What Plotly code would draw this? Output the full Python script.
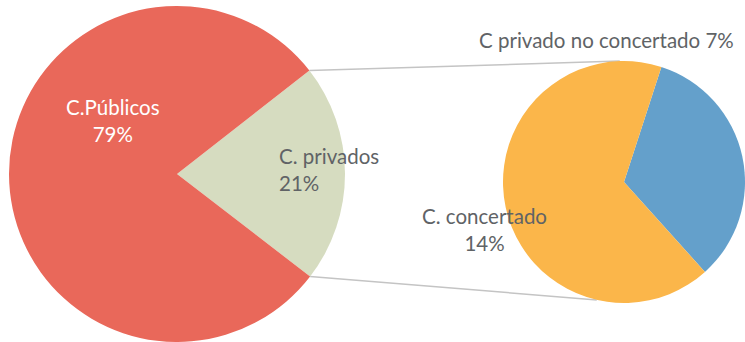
import math
import plotly.graph_objects as go

# Share of students by school type (% of total)
main_labels = ["C. privados", "C.Públicos"]
main_values = [21, 79]
sub_labels = ["C privado no concertado", "C. concertado"]
sub_values = [7, 14]

main_colors = ["#D6DCC0", "#E9685A"]
sub_colors = ["#64A0CB", "#FBB64A"]

W, H = 745, 342
FONT = "Lato, 'Noto Sans', sans-serif"
TEXT_GREY = "#606366"

# Pie placement in pixels: (left, right, bottom, top) measured from the bottom-left corner
main_box = (9, 345, 0, 336)
sub_box = (503, 745, 39, 281)

main_rot = 52   # degrees clockwise from 12 o'clock where the first slice starts
sub_rot = 18


def domain(box):
    x0, x1, y0, y1 = box
    return dict(x=[x0 / W, x1 / W], y=[y0 / H, y1 / H])


def geom(box):
    x0, x1, y0, y1 = box
    r = min(x1 - x0, y1 - y0) / 2
    return (x0 + x1) / 2, (y0 + y1) / 2, r


def point(box, ang):
    cx, cy, r = geom(box)
    a = math.radians(ang)
    return cx + r * math.sin(a), cy + r * math.cos(a)


fig = go.Figure()
fig.add_trace(go.Pie(
    labels=main_labels, values=main_values, sort=False, direction="clockwise",
    rotation=main_rot, marker=dict(colors=main_colors, line=dict(width=0)),
    textinfo="none", hoverinfo="label+percent", domain=domain(main_box),
    showlegend=False,
))
fig.add_trace(go.Pie(
    labels=sub_labels, values=sub_values, sort=False, direction="clockwise",
    rotation=sub_rot, marker=dict(colors=sub_colors, line=dict(width=0)),
    textinfo="none", hoverinfo="label+value", domain=domain(sub_box),
    showlegend=False,
))

# Connector lines from the edges of the private wedge to the secondary pie
total = sum(main_values)
a_start = main_rot
a_end = main_rot + 360 * main_values[0] / total
p_top_l = point(main_box, a_start)
p_bot_l = point(main_box, a_end)
p_top_r = point(sub_box, -2)
p_bot_r = point(sub_box, 193)
for (xa, ya), (xb, yb) in [(p_top_l, p_top_r), (p_bot_l, p_bot_r)]:
    fig.add_shape(type="line", xref="paper", yref="paper",
                  x0=xa / W, y0=ya / H, x1=xb / W, y1=yb / H,
                  line=dict(color="#C4C4C4", width=1.5), layer="below")


def pct(v):
    return f"{round(100 * v / total)}%"


def label(text, x, y, color, xanchor="center", align="center"):
    fig.add_annotation(text=text, x=x / W, y=1 - y / H, xref="paper", yref="paper",
                       showarrow=False, xanchor=xanchor, yanchor="middle", align=align,
                       font=dict(family=FONT, size=20.5, color=color))


label(f"{main_labels[1]}<br>{pct(main_values[1])}", 113, 120, "white")
label(f"{main_labels[0]}<br>{pct(main_values[0])}", 277, 169, TEXT_GREY, xanchor="left", align="left")
label(f"{sub_labels[1]}<br>{pct(sub_values[1])}", 485, 229, TEXT_GREY)
label(f"{sub_labels[0]} {pct(sub_values[0])}", 606, 40, TEXT_GREY)

fig.update_layout(
    width=W, height=H, margin=dict(l=0, r=0, t=0, b=0),
    paper_bgcolor="white", plot_bgcolor="white",
)

fig.write_html("out.html")
